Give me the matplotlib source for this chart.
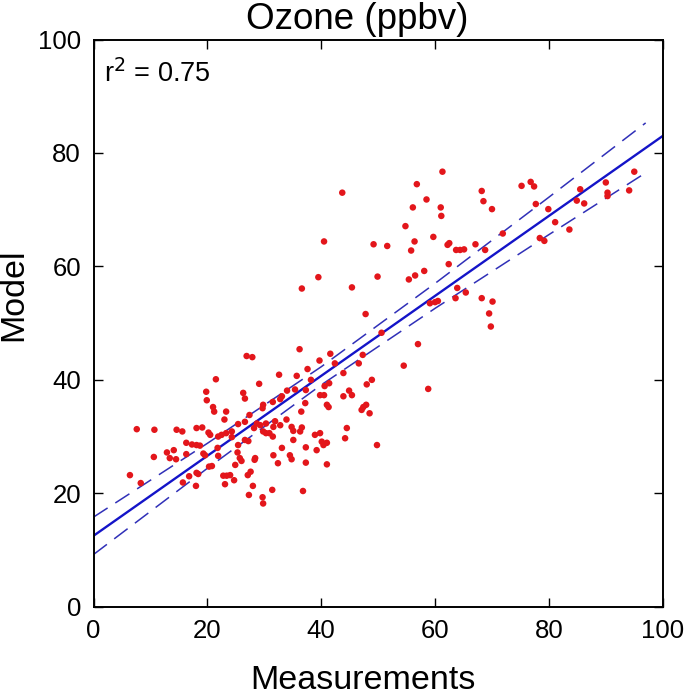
"""Ozone model vs measurements scatter with regression fit."""

import matplotlib
matplotlib.use("Agg")
import matplotlib.pyplot as plt
import numpy as np

plt.rcParams["font.family"] = ["Liberation Sans", "DejaVu Sans"]

measured = [
    26.9, 27.9, 7.6, 10.7, 14.6, 15.6, 18.1, 19.1, 21.5, 19.8,
    19.9, 21.0, 21.2, 23.3, 23.0, 20.2, 20.5, 21.9, 22.5, 23.3,
    16.3, 17.3, 18.1, 18.7, 21.8, 19.3, 19.6, 12.9, 14.1, 13.4,
    14.5, 10.6, 16.3, 21.9, 26.0, 28.3, 32.4, 34.8, 24.9, 20.8,
    20.3, 18.1, 18.4, 16.8, 22.8, 23.4, 24.0, 24.7, 27.1, 27.6,
    6.4, 8.3, 15.7, 18.0, 23.1, 28.0, 31.4, 27.3, 29.7, 29.8,
    25.3, 25.7, 24.3,
    32.6, 35.7, 29.1, 26.3, 26.6, 29.8, 29.7, 31.5, 33.1, 32.8,
    34.0, 35.4, 37.3, 38.2, 39.8, 40.5, 41.4, 37.2, 41.0, 36.5,
    27.4, 26.6, 25.4, 28.7, 29.3, 30.3, 31.9, 33.9, 31.6, 32.8,
    34.8, 35.1, 36.6, 36.3, 28.2, 29.8, 30.3, 30.9, 31.5, 24.3,
    26.6, 27.2, 25.4, 35.1, 39.8, 38.9, 40.1, 41.0, 40.4, 37.3,
    33.1, 39.2, 31.6, 34.5, 28.4,
    50.6, 36.2, 41.6, 39.7, 42.4, 47.3, 46.6, 37.6, 43.9, 48.9,
    48.0, 44.9, 45.4, 43.9, 47.9, 47.4, 47.1, 48.5, 44.5, 44.2,
    49.8, 37.3, 41.0, 36.8, 40.6, 41.3,
    61.3, 56.8, 43.7, 58.5, 56.1, 61.0, 61.1, 68.2, 68.5, 70.0,
    54.8, 59.7, 40.5, 49.2, 51.6, 56.4, 55.8, 62.2, 62.5, 67.1,
    68.8, 63.7, 64.4, 65.1, 62.4, 58.1, 56.5, 55.4, 49.9, 39.5,
    36.6, 45.4, 63.9, 65.4, 63.6, 68.2, 70.1, 59.1, 60.0, 60.5,
    69.5, 69.8, 47.8,
    75.2, 76.8, 77.4, 77.7, 79.9, 85.5, 84.9, 86.2, 90.0, 90.3,
    90.3, 95.0, 94.1, 81.1, 83.6, 71.9, 78.4, 79.2,
    57.0, 54.5, 58.8,
]
modelled = [
    44.2, 44.0, 31.3, 31.2, 31.2, 30.9, 31.5, 31.6, 40.1, 37.9,
    36.4, 35.2, 34.4, 34.4, 33.0, 30.7, 30.3, 30.0, 30.3, 30.6,
    28.9, 28.6, 28.5, 28.4, 28.0, 27.0, 26.7, 27.2, 27.6, 26.2,
    26.0, 26.4, 26.9, 26.6, 25.7, 25.9, 25.3, 26.0, 25.0, 24.8,
    24.7, 23.6, 23.4, 23.0, 23.1, 23.1, 23.2, 22.3, 23.2, 23.8,
    23.2, 21.8, 21.9, 21.3, 21.6, 21.3, 20.6, 19.7, 19.3, 18.2,
    27.2, 26.2, 29.9,
    40.9, 40.7, 39.3, 37.7, 36.7, 35.6, 35.0, 36.1, 37.1, 36.6,
    38.1, 38.3, 38.2, 40.0, 37.3, 37.3, 39.4, 35.9, 35.6, 34.4,
    33.8, 32.6, 32.2, 32.3, 32.0, 32.3, 32.7, 33.0, 31.7, 32.0,
    31.7, 31.0, 31.6, 30.9, 31.5, 30.9, 30.6, 30.6, 30.0, 30.9,
    29.4, 29.2, 28.5, 29.4, 30.6, 30.3, 29.1, 28.9, 28.5, 28.1,
    28.0, 27.6, 26.7, 26.7, 26.2,
    48.3, 45.4, 44.6, 43.4, 42.9, 44.4, 42.9, 41.9, 41.2, 40.0,
    39.2, 38.1, 37.3, 37.1, 35.6, 35.2, 34.7, 34.1, 31.5, 29.7,
    28.5, 25.4, 25.1, 20.4, 38.9, 35.2,
    76.7, 74.5, 73.0, 71.8, 70.4, 70.4, 68.9, 73.3, 71.5, 70.1,
    67.1, 65.2, 64.4, 63.9, 63.6, 64.4, 62.8, 63.8, 64.1, 63.9,
    62.9, 62.9, 62.9, 63.0, 60.4, 59.2, 58.4, 57.7, 58.2, 58.1,
    56.1, 56.3, 56.2, 55.4, 54.4, 54.4, 53.8, 53.5, 53.7, 53.9,
    51.7, 49.4, 51.6,
    74.2, 74.9, 74.1, 71.0, 70.1, 73.6, 71.6, 71.1, 74.8, 73.0,
    72.4, 76.7, 73.4, 67.8, 66.5, 65.8, 65.0, 64.5,
    46.3, 42.5, 38.4,
]

# regression line and its confidence band
fit_x = [0, 100]
fit_y = [12.5, 83.0]
band_x = [0, 20, 40, 60, 80, 97]
band_upper = [15.8, 28.8, 42.3, 57.0, 72.2, 85.3]
band_lower = [9.2, 24.4, 39.1, 52.6, 65.6, 76.5]
r_squared = 0.75

ticks = [0, 20, 40, 60, 80, 100]

fig = plt.figure(figsize=(6.85, 6.96), dpi=100)
ax = fig.add_axes([0.1365, 0.1283, 0.831, 0.8149])

ax.plot(band_x, band_upper, color="#3030b8", lw=1.1, dashes=(11, 6))
ax.plot(band_x, band_lower, color="#3030b8", lw=1.1, dashes=(11, 6))
ax.plot(fit_x, fit_y, color="#1414c8", lw=1.7)
ax.scatter(measured, modelled, s=22, color="#e3161b", edgecolors="none", zorder=3)

ax.set_xlim(0, 100)
ax.set_ylim(0, 100)
ax.set_xticks(ticks)
ax.set_yticks(ticks)
ax.tick_params(direction="in", length=6.5, width=1.0, labelsize=18.5,
               top=True, right=True, pad=9, colors="black")
for side in ax.spines.values():
    side.set_linewidth(1.4)

ax.set_xlabel("Measurements", fontsize=24.5)
ax.xaxis.set_label_coords(0.4735, -0.102)
ax.set_ylabel("Model", fontsize=24.5)
ax.yaxis.set_label_coords(-0.112, 0.55)
ax.text(0.463, 1.0185, "Ozone (ppbv)", transform=ax.transAxes,
        ha="center", va="baseline", fontsize=26.5)
ax.text(0.018, 0.965, r"r$^2$ = " + f"{r_squared:.2f}", transform=ax.transAxes,
        ha="left", va="top", fontsize=19.5)

fig.savefig("out.png", dpi=100)
plt.close(fig)
